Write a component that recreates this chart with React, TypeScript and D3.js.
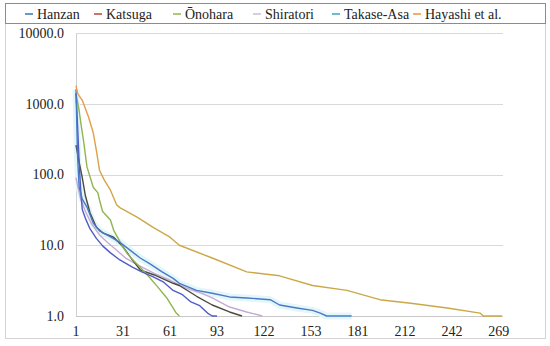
import React from 'react';
import * as d3 from 'd3';

// category index -> value (rank-ordered counts)
const hanzan: [number, number][] = [
    [0, 1400], [1, 500], [2, 150], [3, 60], [4, 32], [6, 24], [9, 17], [13, 12.5], [17, 9.8], [22, 7.8],
    [28, 6.2], [36, 4.9], [42, 4.2], [49, 3.6], [56, 3.0], [62, 2.3], [68, 2.0], [73, 1.6], [79, 1.4],
    [84, 1.1], [87, 1.0], [90, 1.0],
];
const katsuga: [number, number][] = [
    [0, 260], [2, 150], [4, 90], [6, 50], [9, 28.6], [13, 18], [17, 15], [24, 13], [30, 9.5], [36, 6.2],
    [41, 4.5], [50, 3.8], [62, 2.9], [66, 2.7], [77, 1.9], [87, 1.43], [98, 1.14], [106, 1.0],
];
const onohara: [number, number][] = [
    [0, 1400], [2, 800], [3, 550], [5, 280], [7, 128], [11, 66], [14, 55], [15, 43.6], [17, 30], [22, 22.7],
    [24, 16.4], [30, 9.4], [33, 7.5], [37, 6.0], [41, 4.9], [47, 3.5], [52, 2.6], [58, 1.8], [64, 1.1], [66, 1.0],
];
const shiratori: [number, number][] = [
    [0, 90], [1, 70], [3, 45], [6, 30], [10, 20], [15, 14], [20, 11], [26, 8.5], [32, 6.5], [40, 5.2],
    [50, 4.0], [60, 3.2], [70, 2.5], [80, 2.1], [87, 1.8], [98, 1.34], [109, 1.14], [119, 1.0],
];
const takaseAsa: [number, number][] = [
    [0, 1600], [1, 180], [2, 66], [4, 45], [7, 34.7], [11, 20.6], [15, 16], [22, 13.1], [28, 11], [32, 9.4],
    [41, 6.6], [47, 5.5], [55, 4.2], [62, 3.4], [66, 2.9], [77, 2.3], [87, 2.1], [98, 1.86], [109, 1.8],
    [124, 1.7], [130, 1.43], [141, 1.3], [151, 1.2], [156, 1.1], [160, 1.0], [176, 1.0],
];
const hayashi: [number, number][] = [
    [0, 1800], [1, 1400], [3, 1200], [4, 1120], [8, 650], [11, 390], [13, 220], [15, 115], [18, 84],
    [22, 60], [26, 37], [28, 34], [39, 25], [49, 18], [60, 13], [66, 10], [87, 6.6], [109, 4.2], [130, 3.7],
    [151, 2.7], [173, 2.3], [194, 1.7], [215, 1.5], [237, 1.3], [258, 1.1], [260, 1.0], [272, 1.0],
];

const seriesNames = ['Hanzan', 'Katsuga', 'Ōnohara', 'Shiratori', 'Takase-Asa', 'Hayashi et al.'];
const seriesData = [hanzan, katsuga, onohara, shiratori, takaseAsa, hayashi];

const yTicks = [1, 10, 100, 1000, 10000];
const xTickIndex = [0, 30, 60, 90, 120, 150, 180, 210, 240, 270];
const xTickLabels = ['1', '31', '61', '93', '122', '153', '181', '212', '242', '269'];

const legendColors = ['#3f7fc0', '#c0504d', '#9bbb59', '#ccc1da', '#4bacc6', '#f79646'];
const lineColors = ['#4e5cc4', '#4d4a3c', '#8fb54f', '#c4aad6', '#4a78c6', 'url(#hayGrad)'];
const legendX = [25, 94, 173, 253, 332, 413];

const W = 550;
const H = 346;
const margin = { top: 33, right: 48, bottom: 30, left: 76 };
const textStyle: React.CSSProperties = { fontFamily: "'Liberation Serif', 'DejaVu Serif', serif", fontSize: '14px' };

const App: React.FC = () => {
    const x = d3.scaleLinear().domain([0, 272]).range([margin.left, 502]);
    const y = d3.scaleLog().domain([1, 10000]).range([H - margin.bottom, margin.top]);

    const line = d3.line<[number, number]>()
        .x(d => x(d[0]))
        .y(d => y(d[1]));

    // draw order: light ones first
    const order = [3, 1, 2, 0, 4, 5];

    return (
        <svg width={W} height={H} style={{ position: 'absolute', left: 0, top: 0, background: '#fff' }}>
            <defs>
                <linearGradient id="hayGrad" gradientUnits="userSpaceOnUse" x1={0} y1={y(2000)} x2={0} y2={y(40)}>
                    <stop offset="0" stopColor="#f5974a" />
                    <stop offset="1" stopColor="#cba845" />
                </linearGradient>
            </defs>
            <rect x={5.5} y={3.5} width={540} height={335} fill="none" stroke="#d4d4d4" />

            {/* gridlines */}
            {yTicks.map(t => (
                <line key={t} x1={x(0)} x2={503} y1={Math.round(y(t)) + 0.5} y2={Math.round(y(t)) + 0.5}
                    stroke={t === 1 ? '#c8c8c8' : '#d9d9d9'} strokeWidth={1} />
            ))}
            <line x1={x(0) + 0.5} x2={x(0) + 0.5} y1={y(10000)} y2={y(1)} stroke="#d0d0d0" />

            {yTicks.map(t => (
                <text key={t} x={64} y={y(t)} dy="0.35em" textAnchor="end" style={textStyle} fill="#222">
                    {t.toFixed(1)}
                </text>
            ))}
            {xTickIndex.map((t, i) => (
                <text key={t} x={x(t)} y={336} textAnchor="middle" style={textStyle} fill="#222">
                    {xTickLabels[i]}
                </text>
            ))}

            {/* glow under Takase-Asa */}
            <path d={line(takaseAsa) || ''} fill="none" stroke="#e3f7fb" strokeWidth={7} strokeLinejoin="round" />

            {order.map(i => (
                <path key={seriesNames[i]} d={line(seriesData[i]) || ''} fill="none"
                    stroke={lineColors[i]} strokeWidth={1.4} strokeLinejoin="round" />
            ))}

            {/* legend */}
            <rect x={5.5} y={3.5} width={540} height={20} fill="#fff" stroke="#8c8c8c" />
            {seriesNames.map((name, i) => (
                <g key={name}>
                    <line x1={legendX[i]} x2={legendX[i] + 8} y1={14} y2={14}
                        stroke={legendColors[i]} strokeWidth={1.6} />
                    <text x={legendX[i] + 12} y={14} dy="0.35em" style={textStyle} fill="#222">{name}</text>
                </g>
            ))}
        </svg>
    );
};

export default App;
